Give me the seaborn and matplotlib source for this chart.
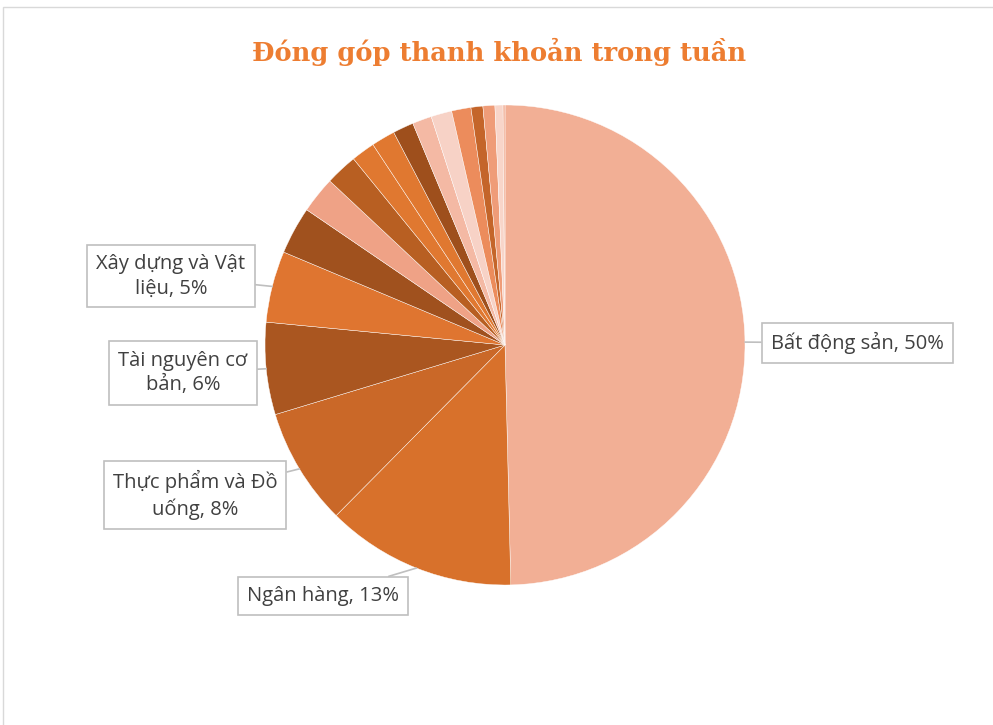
import numpy as np
import matplotlib
matplotlib.use("Agg")
import matplotlib.pyplot as plt
import seaborn as sns
from matplotlib.patches import Rectangle

# Data (share of weekly liquidity, %), clockwise from 12 o'clock
sectors = ["Bất động sản", "Ngân hàng", "Thực phẩm và Đồ uống", "Tài nguyên cơ bản",
           "Xây dựng và Vật liệu", "Dịch vụ tài chính", "Hàng & Dịch vụ công nghiệp",
           "Hóa chất", "Điện, nước & xăng dầu khí đốt", "Bán lẻ", "Dầu khí",
           "Công nghệ thông tin", "Ô tô và phụ tùng", "Bảo hiểm", "Y tế",
           "Du lịch và giải trí", "Truyền thông", "Viễn thông"]
shares = [49.6, 12.8, 7.9, 6.2, 4.8, 3.2, 2.45, 2.15, 1.6, 1.6, 1.4,
          1.3, 1.4, 1.3, 0.8, 0.8, 0.54, 0.13]
colors = ["#F2AF95", "#D8712B", "#CA6828", "#AA5620", "#DF7530", "#A0511E",
          "#EFA286", "#B85F22", "#E07830", "#E07830", "#9E4F1C", "#F4B9A4",
          "#F7D2C6", "#EC8C5C", "#C4652A", "#EF9C78", "#F8D5C9", "#F2AF95"]

# labelled slices: index -> (label text, box centre in pixels)
labels = {
    0: ("Bất động sản, 50%", (857, 343)),
    1: ("Ngân hàng, 13%", (323, 596)),
    2: ("Thực phẩm và Đồ\nuống, 8%", (195, 495)),
    3: ("Tài nguyên cơ\nbản, 6%", (183, 373)),
    4: ("Xây dựng và Vật\nliệu, 5%", (171, 276)),
}

sns.set_theme(style="white")
plt.rcParams["font.family"] = ["Open Sans", "DejaVu Sans"]

W, H = 993, 725
CX, CY, R = 505, 345, 240
fig = plt.figure(figsize=(W / 100, H / 100), dpi=100)
ax = fig.add_axes([(CX - R) / W, 1 - (CY + R) / H, 2 * R / W, 2 * R / H])

wedges, _ = ax.pie(shares, colors=colors, startangle=90, counterclock=False,
                   radius=1, wedgeprops=dict(edgecolor="white", linewidth=0.3))
ax.set_xlim(-1, 1)
ax.set_ylim(-1, 1)
ax.set_aspect("equal")
ax.axis("off")

def to_data(px, py):
    return (px - CX) / R, (CY - py) / R

for i, (txt, (bx, by)) in labels.items():
    w = wedges[i]
    ang = np.deg2rad((w.theta1 + w.theta2) / 2)
    anchor = (np.cos(ang), np.sin(ang))
    ax.annotate(txt, xy=anchor, xytext=to_data(bx, by), ha="center", va="center",
                fontsize=14.5, color="#404040", linespacing=1.32,
                bbox=dict(boxstyle="square,pad=0.45", fc="white", ec="#BFBFBF", lw=1.2),
                arrowprops=dict(arrowstyle="-", color="#BFBFBF", lw=1.2,
                                shrinkA=0, shrinkB=0),
                annotation_clip=False)

fig.text(499 / W, 1 - 52 / H, "Đóng góp thanh khoản trong tuần", ha="center", va="center",
         fontsize=18.5, fontweight="bold", color="#ED7D31",
         family=["DejaVu Serif", "DejaVu Sans"])

# chart area border
fig.add_artist(Rectangle((3 / W, -0.1), 1.2, 1 - 7 / H + 0.1, transform=fig.transFigure,
                         fill=False, edgecolor="#D9D9D9", lw=1))

fig.savefig("out.png", dpi=100, facecolor="white")
